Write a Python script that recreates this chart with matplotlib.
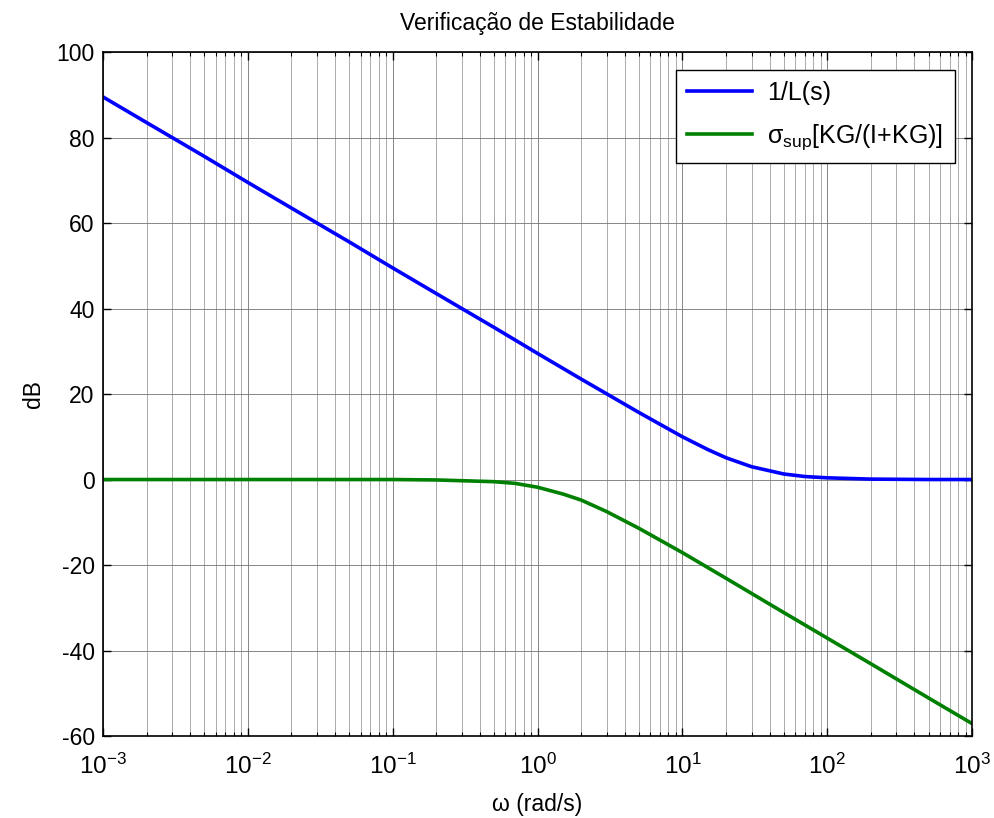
import numpy as np
import matplotlib
matplotlib.use('Agg')
from matplotlib import pyplot as plt
from matplotlib.ticker import FixedLocator, NullFormatter, MultipleLocator


# values (dB vs rad/s)
w_inv = [1e-3, 2e-3, 5e-3, 1e-2, 2e-2, 5e-2, 1e-1, 2e-1, 5e-1, 1, 2, 5,
         10, 15, 20, 30, 50, 70, 100, 200, 500, 1000]
db_inv = [89.5, 83.5, 75.6, 69.5, 63.5, 55.6, 49.5, 43.5, 35.6, 29.5, 23.5, 15.7,
          10.0, 7.0, 5.1, 3.0, 1.3, 0.7, 0.4, 0.1, 0.0, 0.0]

w_sig = [1e-3, 1e-2, 1e-1, 0.2, 0.5, 0.7, 1, 1.5, 2, 3, 5,
         10, 20, 50, 100, 200, 500, 1000]
db_sig = [0.0, 0.0, 0.0, -0.1, -0.5, -0.9, -1.8, -3.4, -4.8, -7.5, -11.4,
          -17.1, -23.1, -31.1, -37.1, -43.1, -51.1, -57.1]

decades = [1e-3, 1e-2, 1e-1, 1e0, 1e1, 1e2, 1e3]
xlim = (1e-3, 1e3)
ylim = (-60, 100)


plt.rcParams['font.family'] = ['Liberation Sans', 'DejaVu Sans']
plt.rcParams['mathtext.fontset'] = 'custom'
plt.rcParams['mathtext.rm'] = 'Liberation Sans'
plt.rcParams['mathtext.it'] = 'Liberation Sans'
plt.rcParams['mathtext.default'] = 'regular'
plt.rcParams['axes.unicode_minus'] = False

fig = plt.figure(figsize=(9.94, 8.18), dpi=100)
ax = fig.add_axes([0.1036, 0.1002, 0.8744, 0.8362])

ax.semilogx(w_inv, db_inv, color=(0, 0, 1), lw=2.6, label='1/L(s)')
ax.semilogx(w_sig, db_sig, color=(0, 0.5, 0), lw=2.6,
            label='σ$_{sup}$[KG/(I+KG)]')

ax.set_xlim(*xlim)
ax.set_ylim(*ylim)
ax.set_xticks(decades)
minors = [d * k for d in decades[:-1] for k in range(2, 10)]
ax.xaxis.set_minor_locator(FixedLocator(minors))
ax.xaxis.set_minor_formatter(NullFormatter())
ax.yaxis.set_major_locator(MultipleLocator(20))

# matlab style grid
ax.grid(True, which='major', axis='both', color='0.45', linestyle='-', lw=0.6)
ax.grid(True, which='minor', axis='x', color='0.62', linestyle='-', lw=0.6)

ax.tick_params(which='both', direction='in', top=True, right=True)
ax.tick_params(axis='y', labelsize=16.5, pad=6)
ax.tick_params(axis='x', labelsize=17.5, pad=13)
ax.tick_params(which='major', length=6, width=1)
ax.tick_params(which='minor', length=3, width=0.8)
for s in ax.spines.values():
	s.set_linewidth(1.2)

ax.set_title('Verificação de Estabilidade', fontsize=16.5, pad=16)
ax.set_xlabel('ω (rad/s)', fontsize=16.5, labelpad=10)
ax.set_ylabel('dB', fontsize=16.5, labelpad=8)

leg = ax.legend(loc='upper right', fontsize=18, fancybox=False, framealpha=1,
                edgecolor='black', borderaxespad=0.7, handlelength=2.6,
                handletextpad=0.6, borderpad=0.45, labelspacing=0.7)
leg.get_frame().set_linewidth(1.0)

fig.savefig('out.png', dpi=100)
